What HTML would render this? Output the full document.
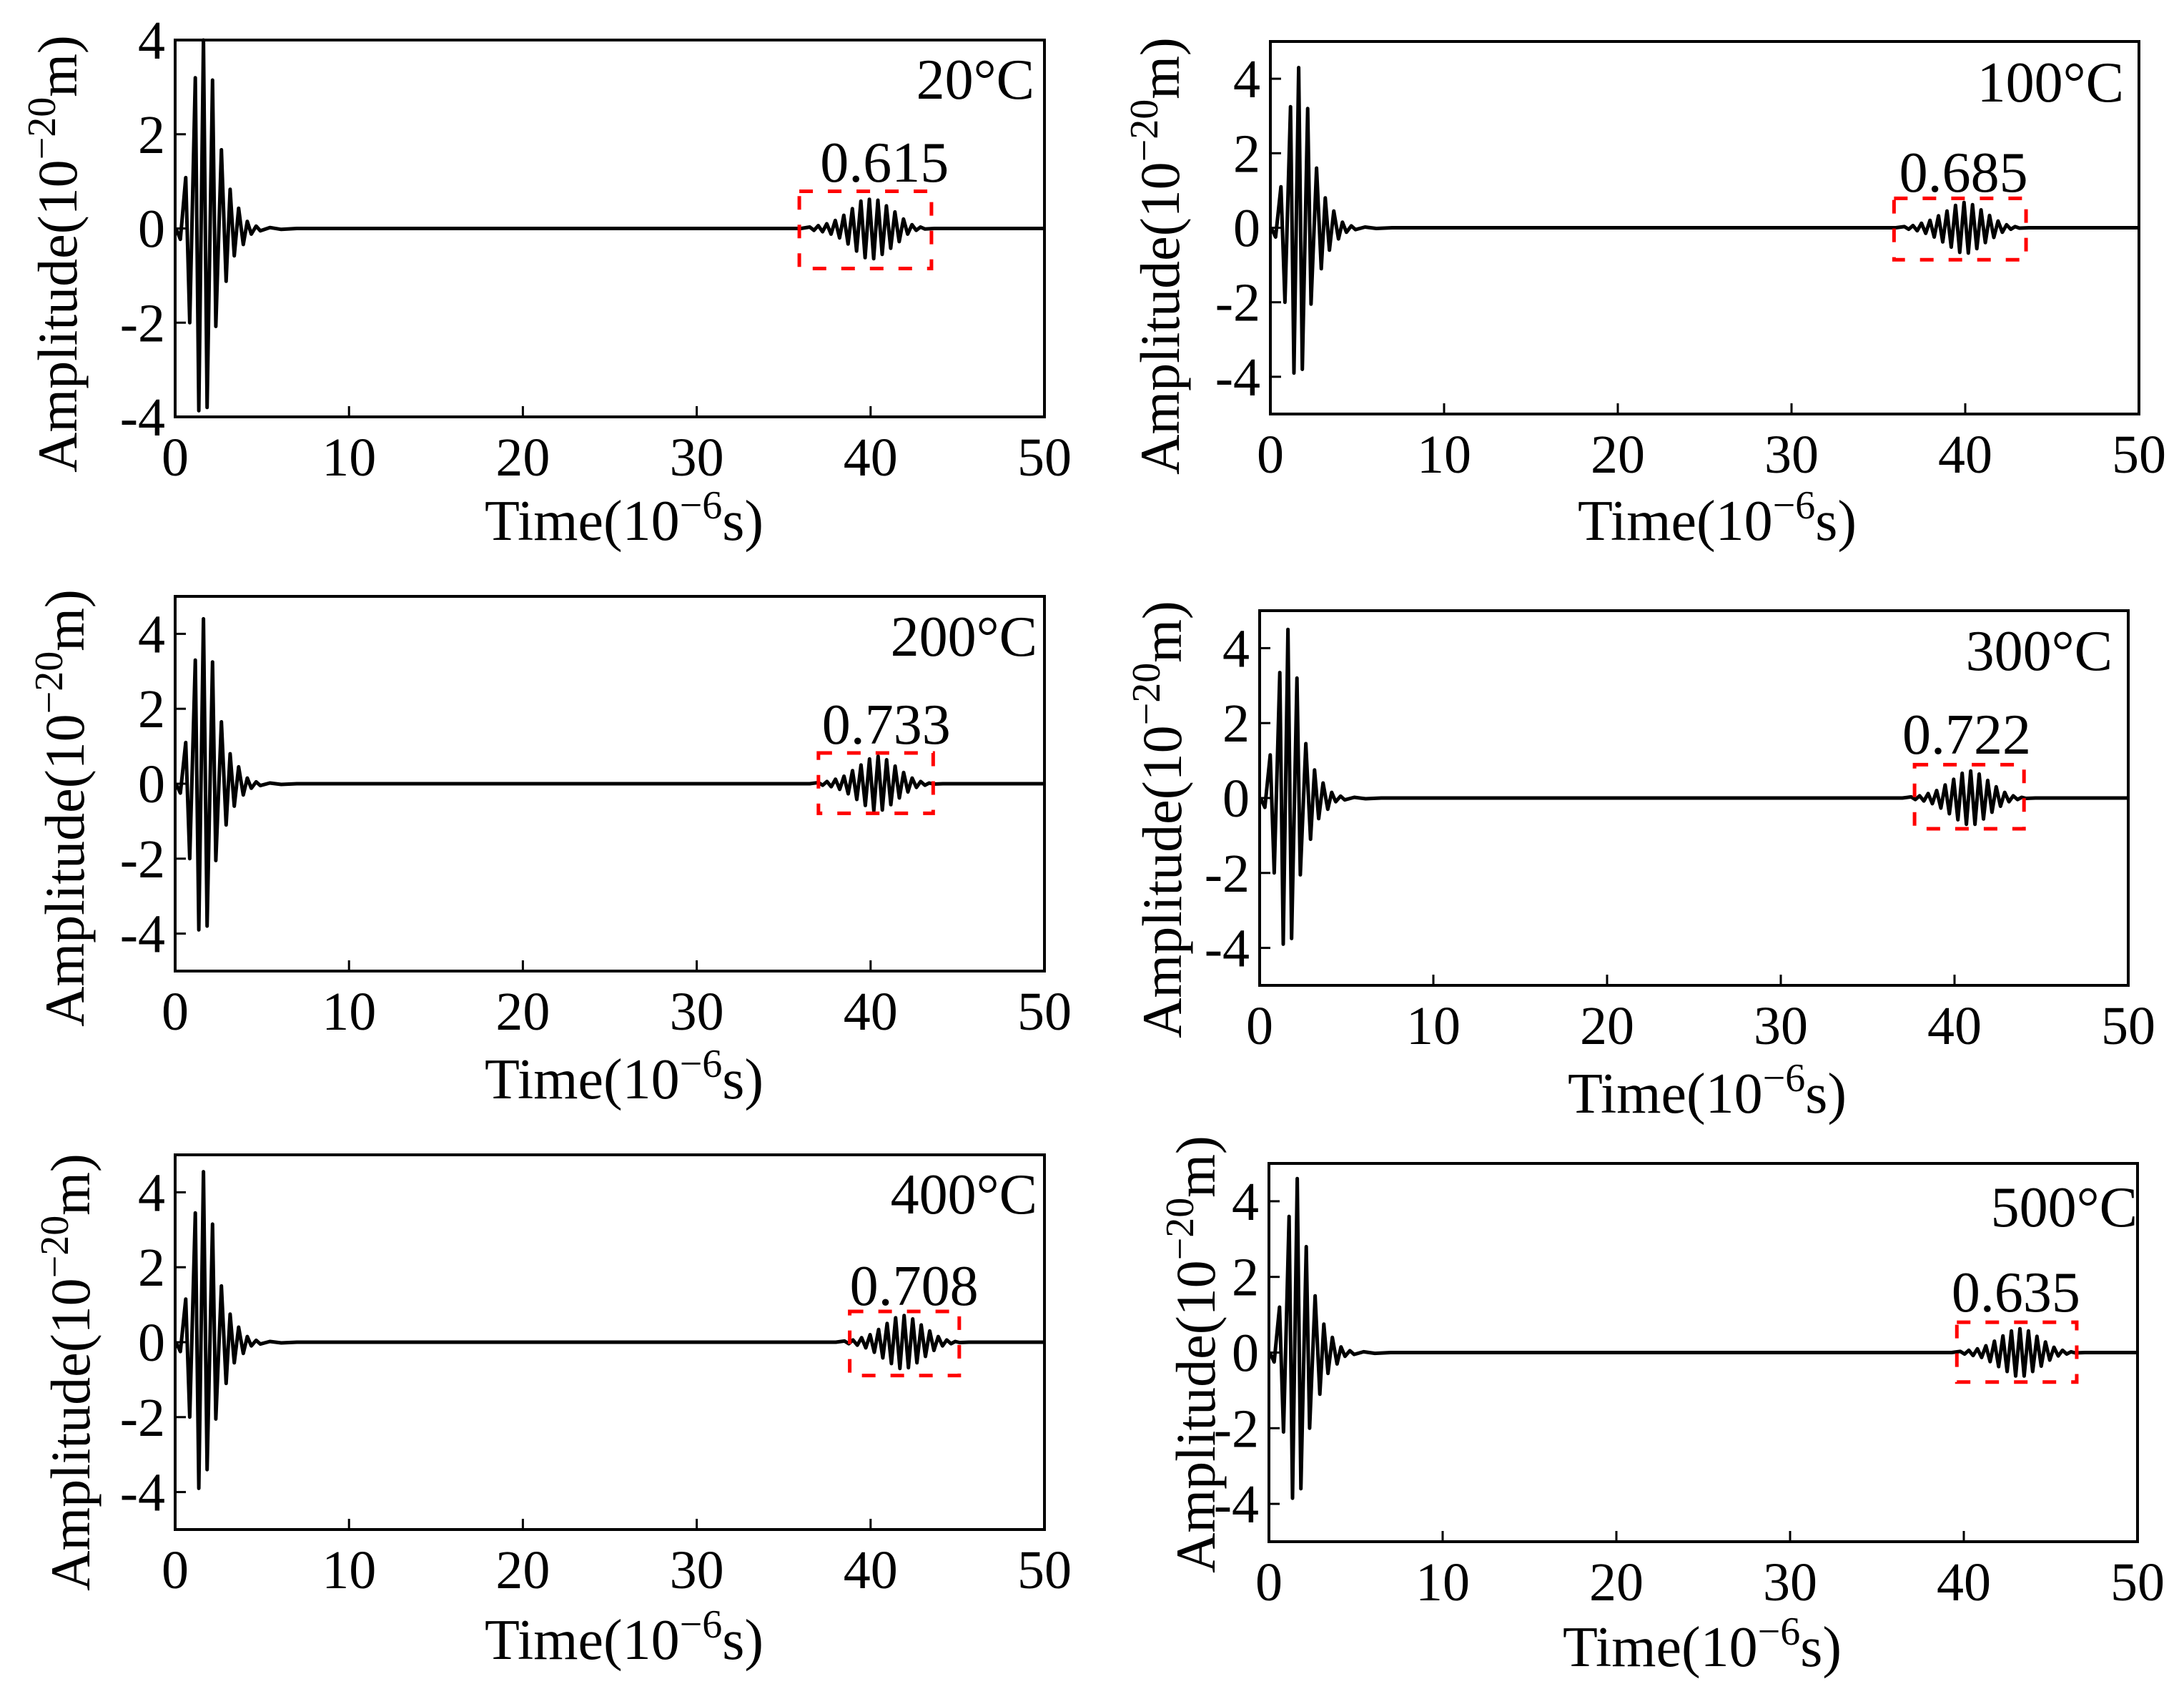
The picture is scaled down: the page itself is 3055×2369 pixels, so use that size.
<!DOCTYPE html>
<html><head><meta charset="utf-8"><style>
html,body{margin:0;padding:0;background:#fff;}
svg{display:block;font-family:"Liberation Serif",serif;}
</style></head><body>
<svg id="fig" width="3055" height="2369" viewBox="0 0 3055 2369" xmlns="http://www.w3.org/2000/svg"></svg>
<script>
// ---- data ----
const panelTemps = ["20°C","100°C","200°C","300°C","400°C","500°C"];
const peakLabels = ["0.615","0.685","0.733","0.722","0.708","0.635"];
const xTicks = [0,10,20,30,40,50];
const yTicks1 = [4,2,0,-2,-4];
const yTicksOther = [4,2,0,-2,-4];
// burst 1 extrema times (10^-6 s)
const burstTimes = [0.05,0.30,0.61,0.84,1.16,1.36,1.63,1.84,2.15,2.34,2.66,2.93,3.16,3.40,3.65,3.92,4.15,4.38,4.66,4.90,5.45,6.10,7.0];
const burstP1 = [0,-0.23,1.08,-2.0,3.2,-3.87,4.0,-3.8,3.15,-2.08,1.67,-1.12,0.83,-0.58,0.43,-0.34,0.15,-0.12,0.05,-0.05,0.02,-0.02,0];
const burstP2 = [0,-0.25,1.1,-2.0,3.25,-3.9,4.3,-3.8,3.2,-2.05,1.6,-1.1,0.8,-0.6,0.45,-0.3,0.15,-0.12,0.05,-0.05,0.02,-0.02,0];
const burstP3 = [0,-0.25,1.1,-2.0,3.3,-3.9,4.4,-3.8,3.25,-2.05,1.65,-1.1,0.8,-0.6,0.45,-0.3,0.15,-0.12,0.05,-0.05,0.02,-0.02,0];
const burstP4 = [0,-0.25,1.15,-2.0,3.35,-3.9,4.5,-3.75,3.2,-2.05,1.45,-1.1,0.75,-0.55,0.4,-0.3,0.15,-0.1,0.05,-0.05,0.02,-0.02,0];
const burstP5 = [0,-0.25,1.15,-2.0,3.45,-3.9,4.55,-3.4,3.15,-2.05,1.5,-1.1,0.75,-0.55,0.4,-0.3,0.15,-0.1,0.05,-0.05,0.02,-0.02,0];
const burstP6 = [0,-0.25,1.2,-2.1,3.6,-3.85,4.6,-3.6,2.8,-2.0,1.5,-1.1,0.75,-0.55,0.4,-0.3,0.15,-0.1,0.05,-0.05,0.02,-0.02,0];
const bursts = [burstP1,burstP2,burstP3,burstP4,burstP5,burstP6];
// packet 2: start time, half-period, extrema amplitudes
const packetStart = [36.5,36.5,37.0,37.5,38.5,39.8];
const packetHalf = [0.245,0.245,0.245,0.245,0.245,0.245];
const packetP1 = [0.03,-0.04,0.06,-0.07,0.1,-0.12,0.17,-0.2,0.28,-0.33,0.42,-0.48,0.58,-0.62,0.62,-0.64,0.6,-0.55,0.48,-0.42,0.35,-0.28,0.2,-0.12,0.08,-0.04,0.03,-0.01];
const packetP2 = [0.03,-0.04,0.06,-0.08,0.12,-0.15,0.2,-0.25,0.32,-0.38,0.45,-0.52,0.6,-0.66,0.68,-0.68,0.62,-0.56,0.48,-0.4,0.33,-0.26,0.18,-0.12,0.08,-0.04,0.03,-0.01];
const packetP3 = [0.03,-0.04,0.06,-0.08,0.12,-0.15,0.2,-0.27,0.35,-0.42,0.5,-0.58,0.66,-0.72,0.73,-0.7,0.64,-0.56,0.47,-0.38,0.3,-0.22,0.15,-0.1,0.06,-0.04,0.02,-0.01];
const packetP4 = [0.03,-0.04,0.06,-0.08,0.12,-0.15,0.2,-0.27,0.35,-0.42,0.5,-0.58,0.66,-0.7,0.72,-0.7,0.64,-0.56,0.47,-0.38,0.3,-0.22,0.15,-0.1,0.06,-0.04,0.02,-0.01];
const packetP5 = [0.03,-0.04,0.06,-0.08,0.12,-0.15,0.2,-0.27,0.34,-0.42,0.5,-0.57,0.65,-0.7,0.71,-0.68,0.62,-0.55,0.46,-0.38,0.3,-0.22,0.15,-0.1,0.06,-0.04,0.02,-0.01];
const packetP6 = [0.03,-0.04,0.06,-0.08,0.1,-0.13,0.18,-0.24,0.3,-0.37,0.44,-0.5,0.57,-0.62,0.63,-0.62,0.57,-0.5,0.43,-0.36,0.28,-0.2,0.14,-0.09,0.06,-0.04,0.02,-0.01];
const packets = [packetP1,packetP2,packetP3,packetP4,packetP5,packetP6];
// red dashed box extents (data)
const boxX0 = [35.9,35.9,37.0,37.7,38.8,39.6];
const boxX1 = [43.5,43.5,43.6,44.0,45.1,46.5];
const boxY0 = [-0.85,-0.86,-0.79,-0.82,-0.89,-0.78];
const boxY1 = [0.79,0.79,0.82,0.89,0.82,0.80];
const labelX = [40.8,39.9,40.9,40.7,42.5,43.0];
const yMax = [4,5,5,5,5,5];

// ---- layout ----
const L = [
 {x0:245,x1:1461,y0:56,y1:583, ytx:80,yty:355, tx:873,tyb:755, tr:1447,tb:138, lb:254},
 {x0:1777,x1:2992,y0:58,y1:579, ytx:1622,yty:358, tx:2402,tyb:755, tr:2971,tb:142, lb:268},
 {x0:245,x1:1461,y0:834,y1:1358, ytx:90,yty:1130, tx:873,tyb:1536, tr:1451,tb:917, lb:1040},
 {x0:1762,x1:2977,y0:854,y1:1378, ytx:1625,yty:1146, tx:2388,tyb:1556, tr:2955,tb:937, lb:1054},
 {x0:245,x1:1461,y0:1615,y1:2139, ytx:98,yty:1919, tx:873,tyb:2320, tr:1451,tb:1697, lb:1825},
 {x0:1775,x1:2990,y0:1627,y1:2156, ytx:1672,yty:1894, tx:2381,tyb:2330, tr:2990,tb:1715, lb:1834}
];
const NS="http://www.w3.org/2000/svg";
const fig=document.getElementById('fig');
function mk(tag,attrs,parent){const e=document.createElementNS(NS,tag);for(const k in attrs)e.setAttribute(k,attrs[k]);(parent||fig).appendChild(e);return e;}

for(let p=0;p<6;p++){
  const l=L[p];
  const g=mk('g',{});
  
  
  const sx=v=>l.x0+(v-0)/(50-0)*(l.x1-l.x0);
  const sy=v=>l.y1-(v+yMax[p])/(2*yMax[p])*(l.y1-l.y0);
  const pts=[];
  const bt=bursts[p];
  for(let i=0;i<burstTimes.length;i++)pts.push([sx(burstTimes[i]),sy(bt[i])]);
  const pk=packets[p];
  pts.push([sx(packetStart[p]-0.5),sy(0)]);
  for(let i=0;i<pk.length;i++)pts.push([sx(packetStart[p]+i*packetHalf[p]),sy(pk[i])]);
  pts.push([sx(packetStart[p]+pk.length*packetHalf[p]+0.3),sy(0)]);
  pts.push([sx(50),sy(0)]);
  const line=mk('polyline',{points:pts.map(q=>q[0].toFixed(1)+','+q[1].toFixed(1)).join(' '),fill:'none',stroke:'#000','stroke-width':5,'stroke-linejoin':'round'},g);
  
  
  const rb=mk('rect',{x:sx(boxX0[p]),y:sy(boxY1[p]),width:sx(boxX1[p])-sx(boxX0[p]),height:sy(boxY0[p])-sy(boxY1[p]),fill:'none',stroke:'#ff0000','stroke-width':5,'stroke-dasharray':'19 21'},g);
  
  
  const fr=mk('rect',{x:l.x0,y:l.y0,width:l.x1-l.x0,height:l.y1-l.y0,fill:'none',stroke:'#000','stroke-width':4},g);
  
  
  xTicks.forEach(t=>{
    const x=sx(t);
    const tk=mk('line',{x1:x,x2:x,y1:l.y1,y2:l.y1-15,stroke:'#000','stroke-width':3},g);
    
    
    const tl=mk('text',{x:x,y:l.y1+82,'font-size':76,'text-anchor':'middle'},g);
    tl.textContent=String(t);
    
    
  });
  const yt=p===0?yTicks1:yTicksOther;
  yt.forEach(t=>{
    const y=sy(t);
    const tk=mk('line',{x1:l.x0,x2:l.x0+15,y1:y,y2:y,stroke:'#000','stroke-width':3},g);
    
    
    const tl=mk('text',{x:l.x0-14,y:y+26,'font-size':76,'text-anchor':'end'},g);
    tl.textContent=String(t);
    
    
  });
  const ytt=mk('text',{x:0,y:0,'font-size':78,'text-anchor':'middle',transform:`translate(${l.ytx+27},${l.yty}) rotate(-90)`},g);
  ytt.innerHTML='Amplitude(10<tspan dy="-30" font-size="56">−20</tspan><tspan dy="30">m)</tspan>';
  
  
  const xt=mk('text',{x:l.tx,y:l.tyb,'font-size':80,'text-anchor':'middle'},g);
  xt.innerHTML='Time(10<tspan dy="-30" font-size="56">−6</tspan><tspan dy="30">s)</tspan>';
  
  
  const tt=mk('text',{x:l.tr,y:l.tb,'font-size':80,'text-anchor':'end'},g);
  tt.textContent=panelTemps[p];
  
  
  const pv=mk('text',{x:sx(labelX[p]),y:l.lb,'font-size':80,'text-anchor':'middle'},g);
  pv.textContent=peakLabels[p];
  
  
}
</script>
</body></html>
